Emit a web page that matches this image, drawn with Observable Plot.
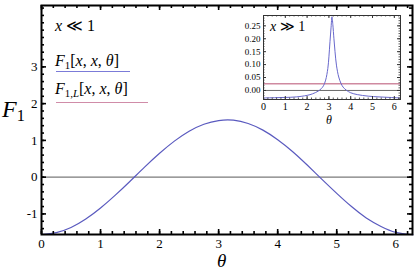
<!DOCTYPE html>
<html><head><meta charset="utf-8">
<script src="https://cdn.jsdelivr.net/npm/d3@7"></script>
<script src="https://cdn.jsdelivr.net/npm/@observablehq/plot@0.6"></script>
<style>
body{margin:0;background:#fff;}
#wrap{position:relative;width:415px;height:271px;overflow:hidden;}
#wrap svg{position:absolute;}
.lab{position:absolute;white-space:nowrap;font-family:"Liberation Serif","DejaVu Serif",serif;color:#000;line-height:1;}
.lab i{font-style:italic;}
.lab sub{font-size:0.68em;vertical-align:-0.25em;line-height:0;}
.ul{position:absolute;height:0;}
</style></head><body><div id="wrap"></div>
<script>
// main panel (x << 1)
const theta = [0,0.25,0.5,0.75,1.0,1.25,1.5,1.75,2.0,2.25,2.5,2.75,3.0,3.25,3.5,3.75,4.0,4.25,4.5,4.75,5.0,5.25,5.5,5.75,6.0,6.25,6.283];
const F1 = [-1.56,-1.51,-1.37,-1.14,-0.84,-0.49,-0.11,0.28,0.65,0.98,1.25,1.44,1.54,1.55,1.46,1.28,1.02,0.70,0.33,-0.06,-0.44,-0.80,-1.11,-1.34,-1.50,-1.56,-1.56];
const F1L = 0;
const xTicks = [0,1,2,3,4,5,6];
const yTicks = [-1,0,1,2,3];
// inset (x >> 1)
const insetTheta = [0,0.5,1.0,1.5,2.0,2.25,2.5,2.65,2.75,2.85,2.95,3.0,3.05,3.1,3.14,3.18,3.23,3.28,3.35,3.45,3.55,3.65,3.8,4.0,4.3,4.8,5.3,5.8,6.283];
const insetF1 = [-0.029,-0.028,-0.027,-0.025,-0.019,-0.013,-0.003,0.007,0.018,0.040,0.085,0.130,0.190,0.245,0.285,0.255,0.200,0.150,0.095,0.052,0.028,0.013,0.001,-0.009,-0.016,-0.022,-0.025,-0.027,-0.029];
const insetF1L = 0.026;
const insetXTicks = [0,1,2,3,4,5,6];
const insetYTicks = [0,0.05,0.10,0.15,0.20,0.25];

const mainData = theta.map((t,i)=>({t, v:F1[i]}));
const insetData = insetTheta.map((t,i)=>({t, v:insetF1[i]}));
const fmt = d => d < 0 ? "-" + (-d) : String(d);
const TWO_PI = 2*Math.PI;
const xMinor = d3.range(0, 6.29, 0.2);
const yMinor = d3.range(-1.4, 4.61, 0.2);
const ixMinor = d3.range(0, 6.29, 0.2);
const iyMinor = d3.range(-0.03, 0.291, 0.01);

// inward frame ticks built from tickX / tickY with insets
function frameTicks(xs, ys, W, H, len, opts){
  return [
    Plot.tickX(xs, {x: d=>d, insetTop: H-len, ...opts}),
    Plot.tickX(xs, {x: d=>d, insetBottom: H-len, ...opts}),
    Plot.tickY(ys, {y: d=>d, insetRight: W-len, ...opts}),
    Plot.tickY(ys, {y: d=>d, insetLeft: W-len, ...opts})
  ];
}

const M = {w:415, h:271, l:41, r:3, t:5, b:37};
const MW = M.w-M.l-M.r, MH = M.h-M.t-M.b;
const main = Plot.plot({
  width:M.w, height:M.h, marginLeft:M.l, marginRight:M.r, marginTop:M.t, marginBottom:M.b,
  x:{domain:[0,TWO_PI]}, y:{domain:[-1.56,4.67]},
  style:{fontFamily:"Liberation Serif, serif", fontSize:"13px", color:"black", background:"transparent", overflow:"visible"},
  marks:[
    Plot.ruleY([F1L],{stroke:"#7a7a7a", strokeWidth:1.2}),
    Plot.line(mainData,{x:"t", y:"v", stroke:"#5a5abf", strokeWidth:1.2, curve:"natural"}),
    Plot.axisX(xTicks,{anchor:"bottom", tickSize:0, tickPadding:4, label:null, fontSize:13}),
    Plot.axisY(yTicks,{anchor:"left", tickSize:0, tickPadding:4, label:null, tickFormat:fmt, fontSize:13}),
    ...frameTicks(xTicks, yTicks, MW, MH, 5, {stroke:"black", strokeWidth:1.6}),
    ...frameTicks(xMinor, yMinor, MW, MH, 3, {stroke:"black", strokeWidth:1.6}),
    Plot.frame({stroke:"black", strokeWidth:2})
  ]
});
main.style.left = "0px"; main.style.top = "0px";

const I = {w:180, h:120, l:33, r:10, t:7, b:29};
const IW = I.w-I.l-I.r, IH = I.h-I.t-I.b;
const inset = Plot.plot({
  width:I.w, height:I.h, marginLeft:I.l, marginRight:I.r, marginTop:I.t, marginBottom:I.b,
  x:{domain:[0,TWO_PI]}, y:{domain:[-0.035,0.29]},
  style:{fontFamily:"Liberation Serif, serif", fontSize:"9px", color:"black", background:"transparent", overflow:"visible"},
  marks:[
    Plot.frame({fill:"white"}),
    Plot.ruleY([0],{stroke:"#6a6a6a", strokeWidth:1}),
    Plot.ruleY([insetF1L],{stroke:"#cf8aa0", strokeWidth:1.5}),
    Plot.line(insetData,{x:"t", y:"v", stroke:"#6868cc", strokeWidth:1, curve:"catmull-rom"}),
    Plot.axisX(insetXTicks,{anchor:"bottom", tickSize:0, tickPadding:3, label:null, fontSize:10}),
    Plot.axisY(insetYTicks,{anchor:"left", tickSize:0, tickPadding:3, label:null, tickFormat:d3.format(".2f"), fontSize:9}),
    ...frameTicks(insetXTicks, insetYTicks, IW, IH, 3, {stroke:"#333", strokeWidth:1}),
    ...frameTicks(ixMinor, iyMinor, IW, IH, 1.5, {stroke:"#333", strokeWidth:0.8}),
    Plot.frame({stroke:"#333", strokeWidth:1})
  ]
});
inset.style.left = "230px"; inset.style.top = "8px";

const wrap = document.getElementById("wrap");
wrap.append(main, inset);

function lab(html, left, top, size){
  const d = document.createElement("div");
  d.className = "lab"; d.innerHTML = html;
  d.style.left = left + "px"; d.style.top = top + "px"; d.style.fontSize = size + "px";
  wrap.append(d); return d;
}
function ul(left, top, w, color){
  const d = document.createElement("div");
  d.className = "ul"; d.style.left = left+"px"; d.style.top = top+"px"; d.style.width = w+"px";
  d.style.borderTop = "1.5px solid " + color; wrap.append(d);
}
lab("<i>x</i> ≪ 1", 55, 18, 16);
lab("<i>F</i><sub>1</sub>[<i>x</i>, <i>x</i>, <i>θ</i>]", 55, 53, 16);
ul(56, 71, 74, "#7b7bd8");
lab("<i>F</i><sub>1,<i>L</i></sub>[<i>x</i>, <i>x</i>, <i>θ</i>]", 55, 81, 16);
ul(56, 102, 92, "#d08ca8");
lab("<i>F</i><sub>1</sub>", 2, 97, 24);
lab("<i>θ</i>", 217, 251, 19);
lab("<i>x</i> ≫ 1", 270, 20, 14);
lab("<i>θ</i>", 326, 114, 12);
</script></body></html>
